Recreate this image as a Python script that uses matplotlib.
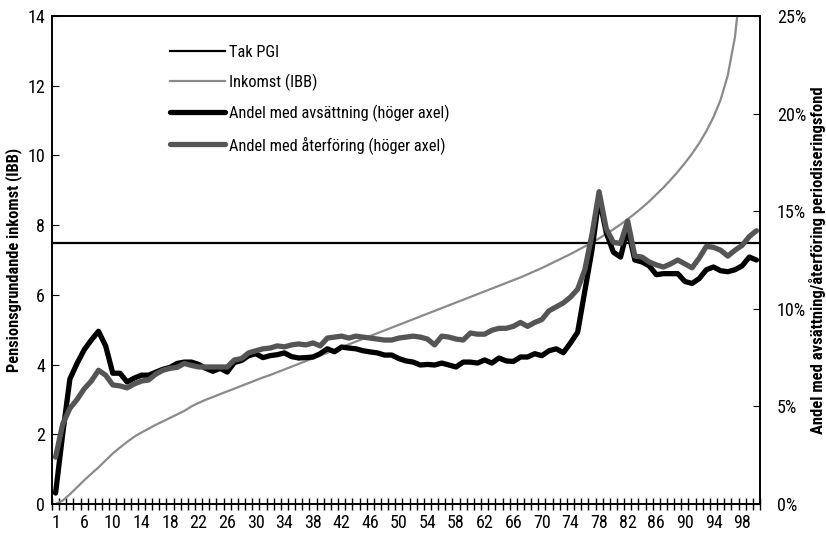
import matplotlib
matplotlib.use("Agg")
import matplotlib.pyplot as plt
from matplotlib import font_manager as fm
from matplotlib.ticker import FixedLocator, FuncFormatter

names = {f.name for f in fm.fontManager.ttflist}
fam = 'DejaVu Sans'
for cand in ['Liberation Sans Narrow', 'Roboto Condensed', 'DejaVu Sans Condensed', 'Liberation Sans']:
    if cand in names:
        fam = cand
        break
plt.rcParams['font.family'] = [fam, 'DejaVu Sans']

# ---- data ----
positions = list(range(1, 100))
tick_positions = list(range(1, 100, 4))
tick_labels = ["1"] + [str(v) for v in range(6, 99, 4)]

tak_pgi = 7.5

inkomst = [0.0, 0.1, 0.28, 0.48, 0.68, 0.87, 1.05, 1.25, 1.45, 1.62,
           1.78, 1.93, 2.05, 2.16, 2.27, 2.37, 2.47, 2.57, 2.67, 2.8,
           2.9, 2.99, 3.07, 3.15, 3.23, 3.31, 3.39, 3.47, 3.55, 3.63,
           3.7, 3.78, 3.86, 3.94, 4.02, 4.1, 4.18, 4.26, 4.34, 4.42,
           4.5, 4.58, 4.66, 4.74, 4.82, 4.9, 4.98, 5.06, 5.14, 5.22,
           5.3, 5.38, 5.46, 5.54, 5.62, 5.7, 5.78, 5.86, 5.94, 6.02,
           6.1, 6.18, 6.26, 6.34, 6.42, 6.5, 6.59, 6.68, 6.77, 6.87,
           6.97, 7.07, 7.17, 7.28, 7.39, 7.5, 7.62, 7.75, 7.88, 8.02,
           8.17, 8.33, 8.5, 8.68, 8.88, 9.08, 9.3, 9.53, 9.78, 10.05,
           10.35, 10.7, 11.1, 11.6, 12.3, 13.4, 15.3, 18.5, 30.0]

avsattning = [0.56, 3.6, 6.4, 7.2, 7.9, 8.4, 8.85, 8.1, 6.7, 6.7,
              6.25, 6.45, 6.6, 6.6, 6.75, 6.9, 7.0, 7.2, 7.27, 7.27,
              7.15, 6.95, 6.8, 6.95, 6.76, 7.25, 7.35, 7.6, 7.7, 7.5,
              7.6, 7.65, 7.74, 7.55, 7.48, 7.5, 7.53, 7.7, 7.95, 7.8,
              8.04, 7.99, 7.95, 7.85, 7.79, 7.74, 7.63, 7.63, 7.45, 7.33,
              7.27, 7.12, 7.15, 7.12, 7.22, 7.12, 7.02, 7.27, 7.27, 7.22,
              7.38, 7.22, 7.48, 7.33, 7.3, 7.53, 7.53, 7.7, 7.6, 7.85,
              7.95, 7.75, 8.25, 8.8, 10.9, 13.0, 15.7, 13.9, 12.9, 12.65,
              14.1, 12.5, 12.4, 12.2, 11.75, 11.8, 11.8, 11.8, 11.4, 11.3,
              11.55, 12.0, 12.14, 11.95, 11.9, 12.0, 12.2, 12.65, 12.5]

aterforing = [2.4, 4.1, 4.9, 5.35, 5.9, 6.3, 6.85, 6.6, 6.1, 6.05,
              5.95, 6.15, 6.3, 6.35, 6.65, 6.85, 6.95, 7.0, 7.2, 7.1,
              7.02, 7.02, 7.02, 7.02, 7.02, 7.38, 7.45, 7.74, 7.85, 7.95,
              7.99, 8.1, 8.05, 8.15, 8.2, 8.15, 8.25, 8.1, 8.5, 8.55,
              8.6, 8.5, 8.6, 8.55, 8.5, 8.45, 8.4, 8.4, 8.5, 8.55,
              8.6, 8.55, 8.45, 8.15, 8.6, 8.55, 8.45, 8.4, 8.76, 8.7,
              8.7, 8.9, 9.0, 9.0, 9.1, 9.3, 9.1, 9.3, 9.45, 9.9,
              10.1, 10.3, 10.6, 11.0, 12.0, 13.8, 16.0, 14.1, 13.4, 13.35,
              14.5, 12.7, 12.65, 12.4, 12.25, 12.14, 12.3, 12.5, 12.3, 12.1,
              12.6, 13.2, 13.15, 13.0, 12.7, 13.0, 13.25, 13.7, 14.0]

labels = ["Tak PGI", "Inkomst (IBB)", "Andel med avsättning (höger axel)",
          "Andel med återföring (höger axel)"]

# ---- figure ----
W, H = 826, 539
fig = plt.figure(figsize=(W / 100, H / 100), dpi=100)
ax = fig.add_axes([52 / W, 35 / H, 708 / W, 488 / H])
ax2 = ax.twinx()

l1 = ax.axhline(tak_pgi, color='black', lw=1.6, zorder=2)
l2, = ax.plot(positions, inkomst, color='#8a8a8a', lw=1.6, zorder=3)
l3, = ax2.plot(positions, avsattning, color='black', lw=3.8,
               solid_capstyle='round', solid_joinstyle='round', zorder=4)
l4, = ax2.plot(positions, aterforing, color='#555555', lw=3.8,
               solid_capstyle='round', solid_joinstyle='round', zorder=5)

ax.set_xlim(0.5, 99.5)
ax.set_ylim(0, 14)
ax2.set_ylim(0, 25)
ax.set_yticks(range(0, 15, 2))
ax2.set_yticks(range(0, 26, 5))
ax2.yaxis.set_major_formatter(FuncFormatter(lambda v, p: f"{int(v)}%"))

ax.xaxis.set_major_locator(FixedLocator(tick_positions))
ax.set_xticklabels(tick_labels)
ax.xaxis.set_minor_locator(FixedLocator([p + 0.5 for p in range(0, 100)]))
ax.tick_params(axis='x', which='major', length=0, labelsize=13, pad=7)
ax.tick_params(axis='x', which='minor', direction='inout', length=9, width=1)
ax.tick_params(axis='y', direction='in', length=5, labelsize=13, pad=5)
ax2.tick_params(axis='y', direction='in', length=5, labelsize=13, pad=12)

for a in (ax, ax2):
    for s in a.spines.values():
        s.set_linewidth(1.2)

ymid = 1 - 260 / H
fig.text(14 / W, ymid, "Pensionsgrundande inkomst (IBB)", rotation=90,
         ha='center', va='center', fontsize=11.8, fontweight='bold')
fig.text(817 / W, ymid, "Andel med avsättning/återföring periodiseringsfond",
         rotation=90, ha='center', va='center', fontsize=12, fontweight='bold')

leg = ax2.legend([l1, l2, l3, l4], labels, loc='upper left',
                 bbox_to_anchor=(0.158, 0.955), frameon=False, fontsize=11.8,
                 handlelength=3.3, handletextpad=0.3, labelspacing=0.85,
                 borderaxespad=0)

fig.savefig("out.png", dpi=100)
